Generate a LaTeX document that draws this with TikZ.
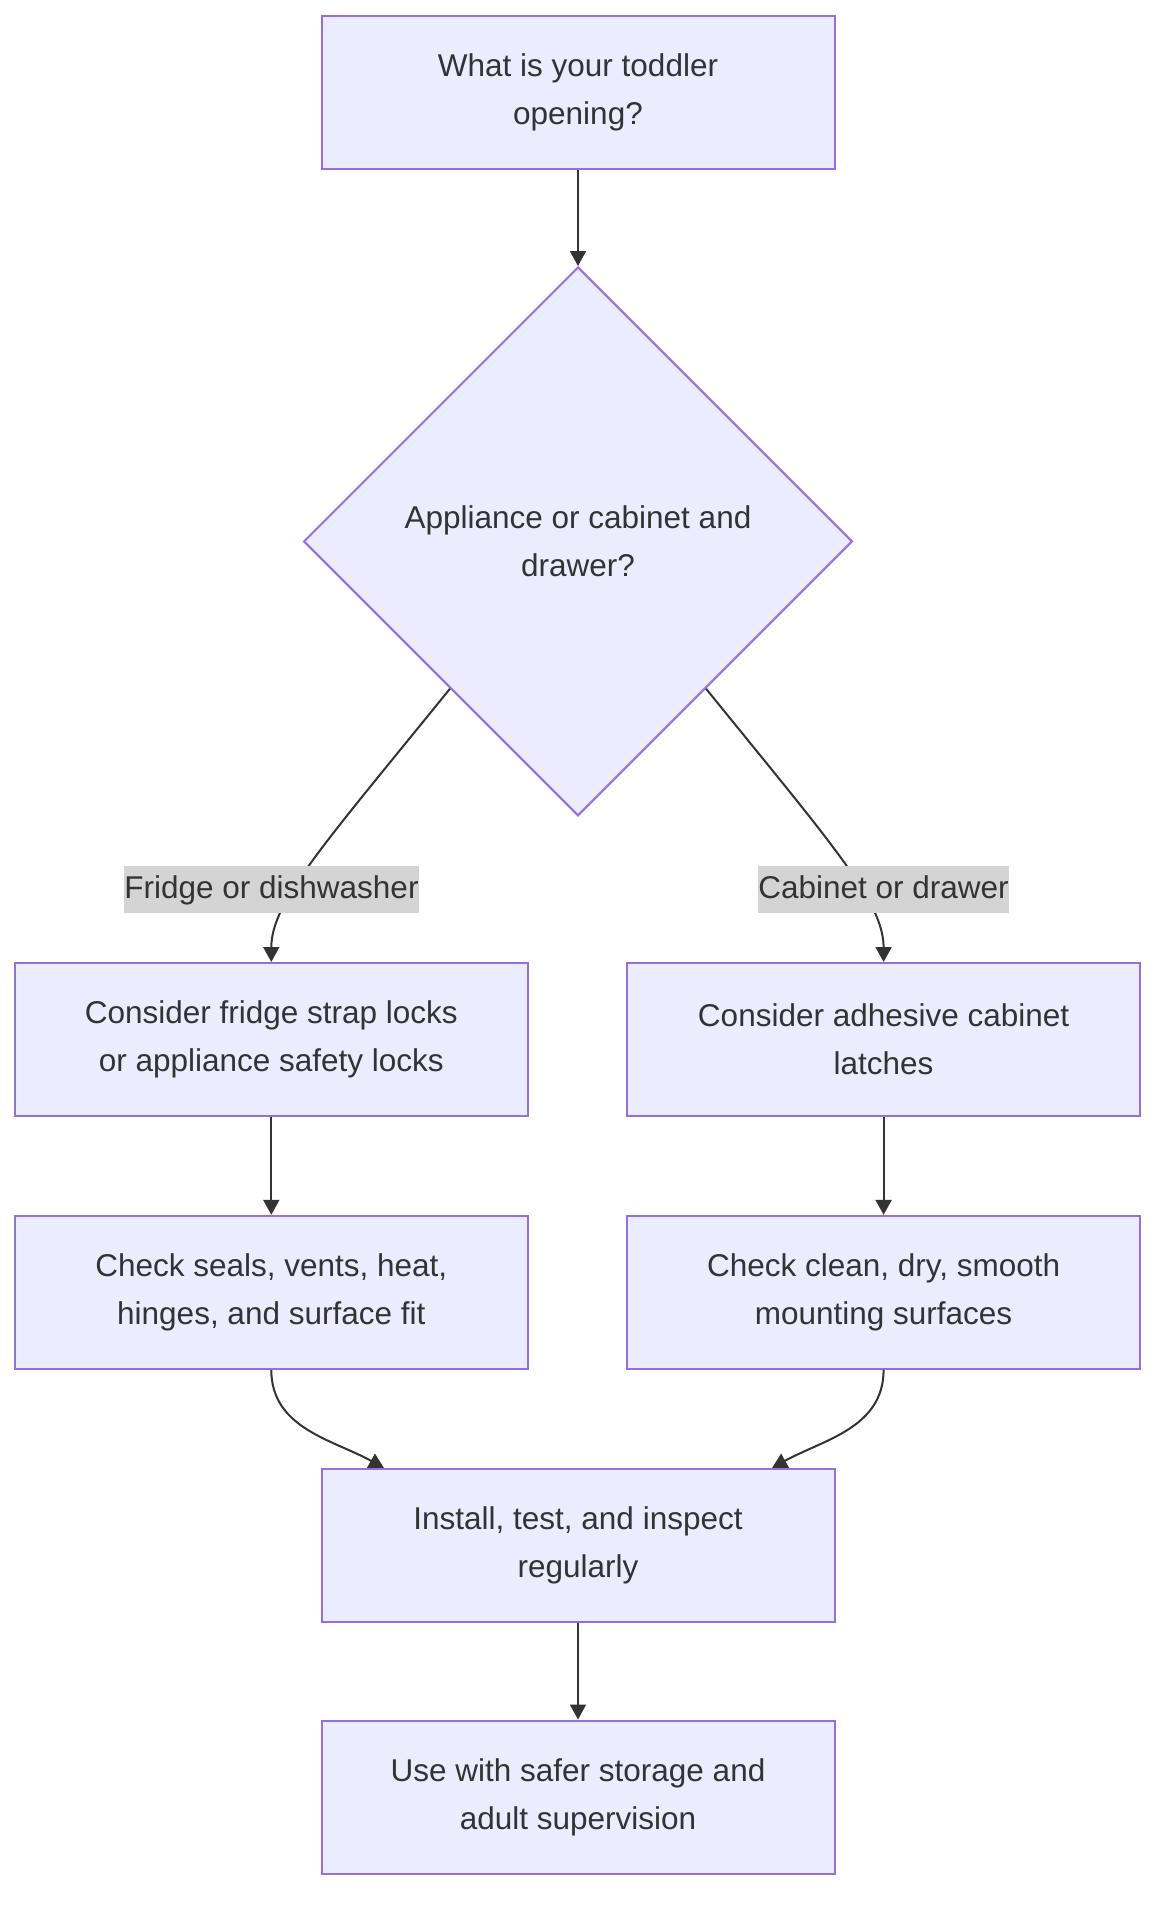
\documentclass[tikz,border=0pt]{standalone}
\usepackage{fontspec}
\setmainfont{Liberation Sans}
\usepackage{tikz}
\usetikzlibrary{arrows.meta,shapes.geometric,calc}
\definecolor{nodefill}{HTML}{ECECFF}
\definecolor{nodeborder}{HTML}{9370DB}
\definecolor{inktext}{HTML}{333333}
\definecolor{labelgray}{RGB}{212,212,212}

\begin{document}
\begin{tikzpicture}[x=0.5pt, y=0.5pt,
  stepbox/.style={rectangle, draw=nodeborder, fill=nodefill, line width=1pt,
    minimum width=256.5pt, minimum height=76.5pt, align=center, text=inktext,
    font=\fontsize{15.75pt}{23.9pt}\selectfont},
  choice/.style={diamond, aspect=1, draw=nodeborder, fill=nodefill, line width=1pt,
    minimum width=274.4pt, minimum height=274.4pt, inner sep=0pt, align=center,
    text=inktext, font=\fontsize{15.75pt}{23.9pt}\selectfont},
  edgelabel/.style={fill=labelgray, text=inktext, inner xsep=0pt, inner ysep=4.45pt,
    text height=11.4pt, text depth=2.9pt, font=\fontsize{15.75pt}{23.9pt}\selectfont},
  arrowline/.style={draw=inktext, line width=1pt, -{Triangle[length=7.5pt,width=8pt]}}]
  \useasboundingbox (0,0) rectangle (1172,-1916);

  % Question and decision
  \node[stepbox] (opening) at (578,-92.3) {What is your toddler\\opening?};
  \node[choice] (kind) at (578,-541.4) {Appliance or cabinet and\\drawer?};

  % Two branches
  \node[stepbox] (fridge) at (271.3,-1039.5) {Consider fridge strap locks\\or appliance safety locks};
  \node[stepbox] (latch) at (883.6,-1039.5) {Consider adhesive cabinet\\latches};
  \node[stepbox] (seals) at (271.3,-1292.3) {Check seals, vents, heat,\\hinges, and surface fit};
  \node[stepbox] (clean) at (883.6,-1292.3) {Check clean, dry, smooth\\mounting surfaces};

  % Common end
  \node[stepbox] (install) at (578,-1545) {Install, test, and inspect\\regularly};
  \node[stepbox] (usage) at (578,-1797) {Use with safer storage and\\adult supervision};
  \coordinate (inleft) at (384,-1468);
  \coordinate (inright) at (772,-1468);

  % Connectors
  \draw[arrowline] (opening.south) -- (kind.north);
  \draw[arrowline] (kind.229) .. controls +(231:200) and +(90:60) .. (fridge.north);
  \draw[arrowline] (kind.311) .. controls +(-51:200) and +(90:60) .. (latch.north);
  \draw[arrowline] (fridge.south) -- (seals.north);
  \draw[arrowline] (latch.south) -- (clean.north);
  \draw[arrowline] (seals.south) to[out=-90, in=151] (inleft);
  \draw[arrowline] (clean.south) to[out=-90, in=29] (inright);
  \draw[arrowline] (install.south) -- (usage.north);

  % Branch labels
  \node[edgelabel] (fridgelabel) at (271.5,-889.5) {Fridge or dishwasher};
  \node[edgelabel] (latchlabel) at (883.6,-889.5) {Cabinet or drawer};
\end{tikzpicture}
\end{document}
